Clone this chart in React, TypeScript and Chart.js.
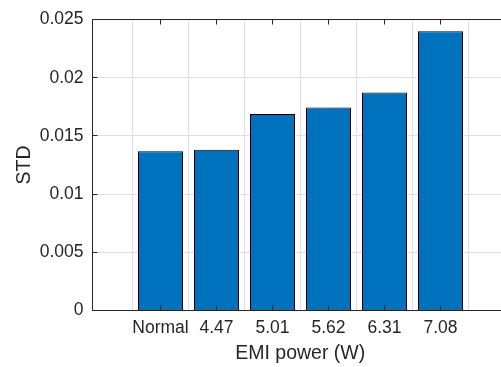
import React, { useEffect, useRef } from 'react';
import { Chart, registerables } from 'chart.js';

Chart.register(...registerables);

const categories = ['Normal', '4.47', '5.01', '5.62', '6.31', '7.08'];
const positions = [1, 2, 3, 4, 5, 6];
const stdValues = [0.01368, 0.0138, 0.01688, 0.01745, 0.01873, 0.02399];
const yTicks = [0, 0.005, 0.01, 0.015, 0.02, 0.025];

const TEXT = '#262626';
const GRID = '#dfdfdf';
const BAR = '#0072BD';
const FONT = "'Liberation Sans', Arial, Helvetica, sans-serif";

const align = (p: number) => Math.round(p - 0.5) + 0.5;

const axesPlugin = {
  id: 'matlabAxes',
  afterDraw(chart: any) {
    const { ctx, chartArea, scales } = chart;
    const left = align(chartArea.left);
    const right = align(chartArea.right);
    const top = align(chartArea.top);
    const bottom = align(chartArea.bottom);
    const x = scales.x;
    const y = scales.y;
    const tl = 5;
    ctx.save();
    ctx.strokeStyle = TEXT;
    ctx.lineWidth = 1;
    ctx.beginPath();
    ctx.moveTo(left, top);
    ctx.lineTo(right, top);
    ctx.moveTo(left, top);
    ctx.lineTo(left, bottom);
    ctx.lineTo(right, bottom);
    ctx.moveTo(right, top);
    ctx.lineTo(right, bottom);
    positions.forEach((v) => {
      const px = align(x.getPixelForValue(v));
      ctx.moveTo(px, bottom);
      ctx.lineTo(px, bottom - tl);
      ctx.moveTo(px, top);
      ctx.lineTo(px, top + tl);
    });
    yTicks.forEach((v) => {
      const py = align(y.getPixelForValue(v));
      ctx.moveTo(left, py);
      ctx.lineTo(left + tl, py);
      ctx.moveTo(right, py);
      ctx.lineTo(right - tl, py);
    });
    ctx.stroke();
    ctx.restore();
  },
};

export default function App() {
  const ref = useRef<HTMLCanvasElement>(null);

  useEffect(() => {
    if (!ref.current) return;
    const chart = new Chart(ref.current, {
      type: 'bar',
      data: {
        datasets: [
          {
            data: positions.map((p, i) => ({ x: p, y: stdValues[i] })),
            backgroundColor: BAR,
            borderColor: '#000000',
            borderWidth: 1,
            barPercentage: 1,
            categoryPercentage: 45 / 56,
          },
        ],
      },
      options: {
        responsive: false,
        animation: false,
        devicePixelRatio: 1,
        layout: { padding: { left: 0, top: 17.9, right: 0, bottom: 0 } },
        plugins: {
          legend: { display: false },
          tooltip: { enabled: false },
        },
        scales: {
          x: {
            type: 'linear',
            min: -0.2143,
            max: 7.2054,
            offset: false,
            afterBuildTicks: (scale: any) => {
              scale.ticks = positions.map((v) => ({ value: v }));
            },
            afterFit: (scale: any) => {
              scale.height = 367 - 310.5;
            },
            grid: { color: GRID, lineWidth: 1, drawTicks: false },
            border: { display: false },
            ticks: {
              autoSkip: false,
              maxRotation: 0,
              padding: 7,
              color: TEXT,
              font: { family: FONT, size: 17.5 },
              callback: (_v: any, i: number) => categories[i],
            },
            title: {
              display: true,
              text: 'EMI power (W)',
              color: TEXT,
              font: { family: FONT, size: 19.5 },
              padding: { top: 0, bottom: 1.8 },
            },
          },
          y: {
            type: 'linear',
            min: 0,
            max: 0.025,
            afterBuildTicks: (scale: any) => {
              scale.ticks = yTicks.map((v) => ({ value: v }));
            },
            afterFit: (scale: any) => {
              scale.width = 92.5;
            },
            grid: { color: GRID, lineWidth: 1, drawTicks: false },
            border: { display: false },
            ticks: {
              padding: 9,
              color: TEXT,
              font: { family: FONT, size: 17.5 },
              callback: (v: any) => String(+Number(v).toFixed(3)),
            },
            title: {
              display: true,
              text: 'STD',
              color: TEXT,
              font: { family: FONT, size: 19.5 },
              padding: { top: 12.8, bottom: 0 },
            },
          },
        },
      },
      plugins: [axesPlugin],
    } as any);
    return () => chart.destroy();
  }, []);

  return (
    <div
      style={{
        position: 'absolute',
        left: 0,
        top: 0,
        width: 501,
        height: 367,
        overflow: 'hidden',
        background: '#ffffff',
      }}
    >
      <canvas ref={ref} width={508} height={367} style={{ display: 'block', width: 508, height: 367 }} />
    </div>
  );
}
